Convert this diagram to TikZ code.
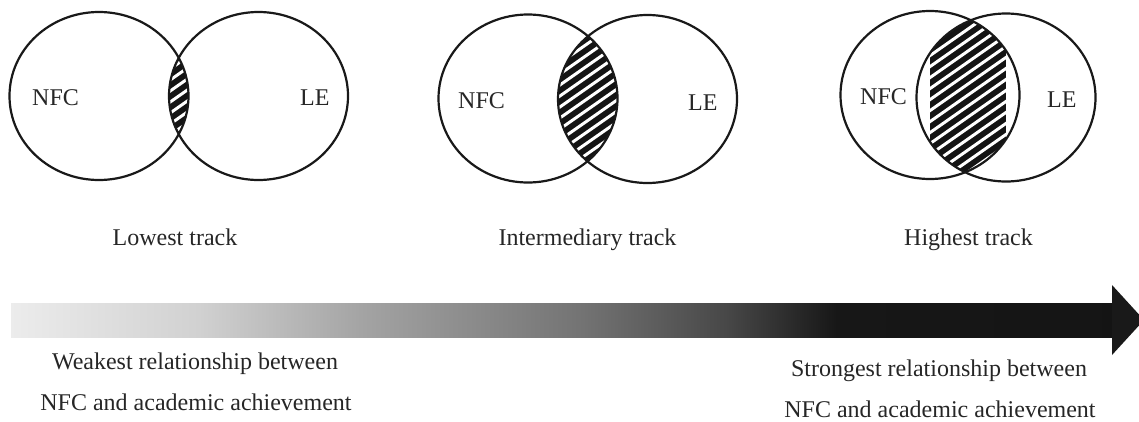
\documentclass[tikz,border=0pt]{standalone}
\usepackage{fontspec}
\setmainfont{Liberation Serif}
% grey-to-black ramp for the arrow shaft (the path is mapped onto 25bp..75bp)
\pgfdeclarehorizontalshading{bargrad}{100bp}{%
  rgb(0bp)=(.925,.925,.925);
  rgb(25bp)=(.925,.925,.925);
  rgb(33.5bp)=(.82,.82,.82);
  rgb(41bp)=(.64,.64,.64);
  rgb(51bp)=(.45,.45,.45);
  rgb(57.5bp)=(.28,.28,.28);
  rgb(62.5bp)=(.09,.09,.09);
  rgb(75bp)=(.08,.08,.08);
  rgb(100bp)=(.08,.08,.08)}
\begin{document}
\begin{tikzpicture}[x=1pt,y=-1pt,
  ring/.style={line width=2.2pt, draw=black!90},
  hatchline/.style={white, line width=3pt},
  lbl/.style={font=\fontsize{24}{28}\selectfont, text=black!85, inner sep=0pt, anchor=base},
  headfill/.style={fill=black!90}]
  \clip (0,0) rectangle (1139,421);

  % three overlapping pairs of sets, with the hatched overlap
  \foreach \lx/\ly/\rx/\ry in {99/96/258.5/96, 528/98.5/647.5/99, 930/95/1006/97.5} {
    \begin{scope}
      \clip (\lx,\ly) ellipse [x radius=89.5, y radius=84];
      \clip (\rx,\ry) ellipse [x radius=89.5, y radius=84];
      \fill[black!92] (\lx,0) rectangle (\rx,200);
      \foreach \k in {-20,...,20}
        \draw[hatchline] ({(\lx+\rx)/2-130},{\ly+\k*11+91}) -- ({(\lx+\rx)/2+130},{\ly+\k*11-91});
    \end{scope}
    \draw[ring] (\lx,\ly) ellipse [x radius=89.5, y radius=84];
    \draw[ring] (\rx,\ry) ellipse [x radius=89.5, y radius=84];
  }

  % set labels
  \node[lbl, anchor=base west] (nfcA) at (32,105) {NFC};
  \node[lbl, anchor=base west] (leA)  at (300,105) {LE};
  \node[lbl, anchor=base west] (nfcB) at (458,108) {NFC};
  \node[lbl, anchor=base west] (leB)  at (688,110) {LE};
  \node[lbl, anchor=base west] (nfcC) at (860,104) {NFC};
  \node[lbl, anchor=base west] (leC)  at (1047,107) {LE};

  % track captions
  \node[lbl] (lowest) at (175,245) {Lowest track};
  \node[lbl] (inter)  at (587.5,245) {Intermediary track};
  \node[lbl] (high)   at (968.5,245) {Highest track};

  % shaded arrow
  \shade[shading=bargrad] (11,303) rectangle (1112,337);
  \fill[headfill] (1112,285) -- (1144,320) -- (1112,355) -- cycle;

  % ends of the scale
  \node[lbl] (weak1)   at (195,369) {Weakest relationship between};
  \node[lbl] (weak2)   at (196,410) {NFC and academic achievement};
  \node[lbl] (strong1) at (939,376) {Strongest relationship between};
  \node[lbl] (strong2) at (940,417) {NFC and academic achievement};
\end{tikzpicture}
\end{document}
